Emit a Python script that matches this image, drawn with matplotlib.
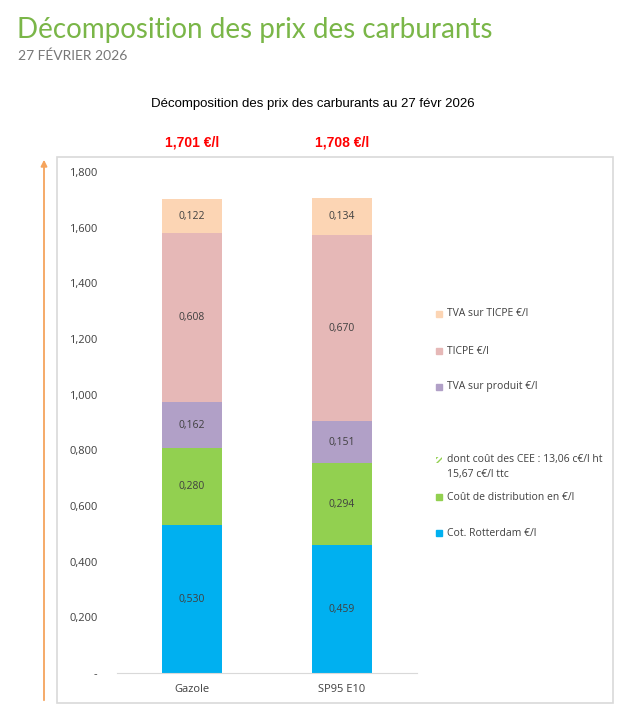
import numpy as np
import matplotlib.pyplot as plt
from matplotlib.patches import Rectangle, FancyArrowPatch

plt.rcParams['font.family'] = ['Open Sans', 'DejaVu Sans']

# Data
fuels = ['Gazole', 'SP95 E10']
totals = ['1,701 €/l', '1,708 €/l']
series = ['Cot. Rotterdam €/l', 'Coût de distribution en €/l',
          'TVA sur produit €/l', 'TICPE €/l', 'TVA sur TICPE €/l']
rotterdam = [0.530, 0.459]
distribution = [0.280, 0.294]
tva_produit = [0.162, 0.151]
ticpe = [0.608, 0.670]
tva_ticpe = [0.122, 0.134]
cee_label = 'dont coût des CEE : 13,06 c€/l ht\n15,67 c€/l ttc'
yticks = [0, 0.2, 0.4, 0.6, 0.8, 1.0, 1.2, 1.4, 1.6, 1.8]

colors = ['#00B0F0', '#92D050', '#B1A0C7', '#E6B8B7', '#FCD5B4']

W, H = 624, 717
fig = plt.figure(figsize=(W / 100, H / 100), dpi=100)

def fx(px):
    return px / W

def fy(py):
    return 1 - py / H

# page headers
fig.text(fx(17), fy(30), 'Décomposition des prix des carburants', color='#7AB648',
         fontsize=20, va='center', ha='left', family=['Lato', 'DejaVu Sans'])
fig.text(fx(18), fy(56), '27 FÉVRIER 2026', color='#777777', fontsize=10,
         va='center', ha='left', family=['Lato', 'DejaVu Sans'])

# chart frame
fig.patches.append(Rectangle((fx(57), fy(703)), fx(613) - fx(57), fy(157) - fy(703),
                             transform=fig.transFigure, fill=False,
                             edgecolor='#D9D9D9', linewidth=1.2))
fig.text(fx(313), fy(104), 'Décomposition des prix des carburants au 27 févr 2026',
         fontsize=9.5, ha='center', va='center', color='#000000',
         family=['Liberation Sans Narrow', 'Liberation Sans', 'DejaVu Sans'])

# orange arrow on the left
fig.patches.append(FancyArrowPatch((fx(44), fy(703)), (fx(44), fy(157)),
                                   transform=fig.transFigure, arrowstyle='-|>',
                                   mutation_scale=9, color='#F5A45D', linewidth=1.3))

ax = fig.add_axes([fx(117), fy(673), fx(417) - fx(117), fy(172) - fy(673)])
x = np.arange(len(fuels))
stack = [rotterdam, distribution, tva_produit, ticpe, tva_ticpe]
bottom = np.zeros(len(fuels))
for vals, c in zip(stack, colors):
    vals = np.array(vals)
    ax.bar(x, vals, 0.4, bottom=bottom, color=c)
    for xi, b, v in zip(x, bottom, vals):
        ax.text(xi, b + v / 2, f'{v:.3f}'.replace('.', ','), ha='center', va='center',
                fontsize=7.5, color='#404040')
    bottom += vals

for xi, t in zip(x, totals):
    ax.annotate(t, (xi, 1.8), xytext=(0, 21), textcoords='offset points',
                ha='center', va='center', color='#FF0000', fontsize=10,
                fontweight='bold', family=['Liberation Sans Narrow', 'Liberation Sans', 'DejaVu Sans'],
                annotation_clip=False)

ax.set_xlim(-0.5, 1.5)
ax.set_ylim(0, 1.8)
ax.set_yticks(yticks)
ax.set_yticklabels(['-'] + [f'{v:.3f}'.replace('.', ',') for v in yticks[1:]])
ax.set_xticks(x)
ax.set_xticklabels(fuels)
ax.tick_params(axis='y', length=0, pad=14, labelsize=8, labelcolor='#404040')
ax.tick_params(axis='x', length=0, pad=8, labelsize=8, labelcolor='#404040')
for s in ['top', 'right', 'left']:
    ax.spines[s].set_visible(False)
ax.spines['bottom'].set_color('#D9D9D9')

# legend
leg_y = [314, 351, 387, 497, 533]
for lbl, c, py in zip(series[::-1], colors[::-1], leg_y):
    fig.patches.append(Rectangle((fx(436), fy(py + 3)), fx(6), fy(0) - fy(6),
                                 transform=fig.transFigure, color=c))
    fig.text(fx(447), fy(py), lbl, fontsize=7.5, color='#404040', va='center', ha='left')
fig.patches.append(Rectangle((fx(436), fy(463)), fx(6), fy(0) - fy(6),
                             transform=fig.transFigure, facecolor='white',
                             edgecolor='#92D050', hatch='//////', linewidth=0))
fig.text(fx(447), fy(467), cee_label, fontsize=7.5, color='#404040', va='center',
         ha='left', linespacing=1.5)

fig.savefig('out.png', dpi=100)
